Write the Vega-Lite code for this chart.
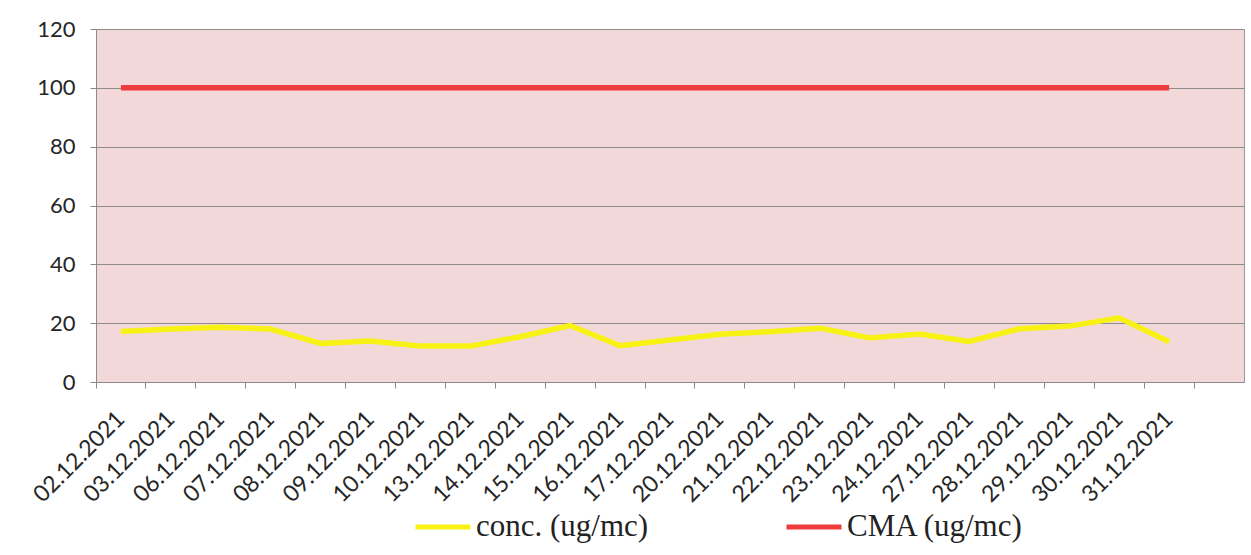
{
  "$schema": "https://vega.github.io/schema/vega-lite/v6.json",
  "width": 1148,
  "height": 353,
  "autosize": "none",
  "padding": {"left": 96, "top": 29, "right": 7, "bottom": 173},
  "background": "white",
  "config": {
    "view": {"fill": "#f3d8da", "stroke": "#9a9a9a", "strokeWidth": 1}
  },
  "data": {
    "values": [
      {"date": "02.12.2021", "series": "conc. (ug/mc)", "value": 17.2},
      {"date": "03.12.2021", "series": "conc. (ug/mc)", "value": 18.0},
      {"date": "06.12.2021", "series": "conc. (ug/mc)", "value": 18.6},
      {"date": "07.12.2021", "series": "conc. (ug/mc)", "value": 18.0},
      {"date": "08.12.2021", "series": "conc. (ug/mc)", "value": 13.1},
      {"date": "09.12.2021", "series": "conc. (ug/mc)", "value": 13.9},
      {"date": "10.12.2021", "series": "conc. (ug/mc)", "value": 12.2},
      {"date": "13.12.2021", "series": "conc. (ug/mc)", "value": 12.2},
      {"date": "14.12.2021", "series": "conc. (ug/mc)", "value": 15.4},
      {"date": "15.12.2021", "series": "conc. (ug/mc)", "value": 19.2},
      {"date": "16.12.2021", "series": "conc. (ug/mc)", "value": 12.3},
      {"date": "17.12.2021", "series": "conc. (ug/mc)", "value": 14.3},
      {"date": "20.12.2021", "series": "conc. (ug/mc)", "value": 16.2},
      {"date": "21.12.2021", "series": "conc. (ug/mc)", "value": 17.1},
      {"date": "22.12.2021", "series": "conc. (ug/mc)", "value": 18.3},
      {"date": "23.12.2021", "series": "conc. (ug/mc)", "value": 15.0},
      {"date": "24.12.2021", "series": "conc. (ug/mc)", "value": 16.3},
      {"date": "27.12.2021", "series": "conc. (ug/mc)", "value": 13.8},
      {"date": "28.12.2021", "series": "conc. (ug/mc)", "value": 18.1},
      {"date": "29.12.2021", "series": "conc. (ug/mc)", "value": 19.0},
      {"date": "30.12.2021", "series": "conc. (ug/mc)", "value": 21.8},
      {"date": "31.12.2021", "series": "conc. (ug/mc)", "value": 13.7},
      {"date": "02.12.2021", "series": "CMA (ug/mc)", "value": 100},
      {"date": "03.12.2021", "series": "CMA (ug/mc)", "value": 100},
      {"date": "06.12.2021", "series": "CMA (ug/mc)", "value": 100},
      {"date": "07.12.2021", "series": "CMA (ug/mc)", "value": 100},
      {"date": "08.12.2021", "series": "CMA (ug/mc)", "value": 100},
      {"date": "09.12.2021", "series": "CMA (ug/mc)", "value": 100},
      {"date": "10.12.2021", "series": "CMA (ug/mc)", "value": 100},
      {"date": "13.12.2021", "series": "CMA (ug/mc)", "value": 100},
      {"date": "14.12.2021", "series": "CMA (ug/mc)", "value": 100},
      {"date": "15.12.2021", "series": "CMA (ug/mc)", "value": 100},
      {"date": "16.12.2021", "series": "CMA (ug/mc)", "value": 100},
      {"date": "17.12.2021", "series": "CMA (ug/mc)", "value": 100},
      {"date": "20.12.2021", "series": "CMA (ug/mc)", "value": 100},
      {"date": "21.12.2021", "series": "CMA (ug/mc)", "value": 100},
      {"date": "22.12.2021", "series": "CMA (ug/mc)", "value": 100},
      {"date": "23.12.2021", "series": "CMA (ug/mc)", "value": 100},
      {"date": "24.12.2021", "series": "CMA (ug/mc)", "value": 100},
      {"date": "27.12.2021", "series": "CMA (ug/mc)", "value": 100},
      {"date": "28.12.2021", "series": "CMA (ug/mc)", "value": 100},
      {"date": "29.12.2021", "series": "CMA (ug/mc)", "value": 100},
      {"date": "30.12.2021", "series": "CMA (ug/mc)", "value": 100},
      {"date": "31.12.2021", "series": "CMA (ug/mc)", "value": 100}
    ]
  },
  "mark": {"type": "line", "strokeWidth": 5.5, "strokeJoin": "round", "strokeCap": "butt"},
  "encoding": {
    "x": {
      "field": "date",
      "type": "ordinal",
      "bandPosition": 0.5,
      "scale": {
        "type": "band",
        "paddingInner": 0,
        "paddingOuter": 0,
        "domain": ["02.12.2021", "03.12.2021", "06.12.2021", "07.12.2021", "08.12.2021", "09.12.2021", "10.12.2021", "13.12.2021", "14.12.2021", "15.12.2021", "16.12.2021", "17.12.2021", "20.12.2021", "21.12.2021", "22.12.2021", "23.12.2021", "24.12.2021", "27.12.2021", "28.12.2021", "29.12.2021", "30.12.2021", "31.12.2021", " "]
      },
      "axis": {
        "title": null,
        "grid": false,
        "bandPosition": 0,
        "domain": true,
        "domainColor": "#8a8a8a",
        "ticks": true,
        "tickSize": 6,
        "tickColor": "#8a8a8a",
        "labelAngle": -45,
        "labelAlign": "right",
        "labelBaseline": "middle",
        "labelPadding": 27,
        "labelDx": 24,
        "labelDy": 24,
        "labelFont": "Lato",
        "labelFontSize": 23,
        "labelColor": "#262626",
        "labelOverlap": false,
        "labelBound": false,
        "labelFlush": false,
        "labelLimit": 0
      }
    },
    "y": {
      "field": "value",
      "type": "quantitative",
      "scale": {"domain": [0, 120], "nice": false, "zero": true},
      "axis": {
        "title": null,
        "values": [0, 20, 40, 60, 80, 100, 120],
        "grid": true,
        "gridColor": "#8c8c8c",
        "gridWidth": 1,
        "domain": true,
        "domainColor": "#8a8a8a",
        "ticks": true,
        "tickSize": 6,
        "tickColor": "#8a8a8a",
        "labelPadding": 15,
        "labelFont": "Lato",
        "labelFontSize": 22,
        "labelColor": "#262626"
      }
    },
    "color": {
      "field": "series",
      "type": "nominal",
      "scale": {
        "domain": ["conc. (ug/mc)", "CMA (ug/mc)"],
        "range": ["#f8f214", "#ef3b3b"]
      },
      "legend": {
        "title": null,
        "orient": "none",
        "direction": "horizontal",
        "legendX": 317,
        "legendY": 468,
        "symbolType": "stroke",
        "symbolSize": 3025,
        "symbolStrokeWidth": 5,
        "labelOffset": 3,
        "columnPadding": 127,
        "labelFont": "Liberation Serif",
        "labelFontSize": 31,
        "labelColor": "#222222",
        "labelLimit": 0
      }
    }
  }
}
